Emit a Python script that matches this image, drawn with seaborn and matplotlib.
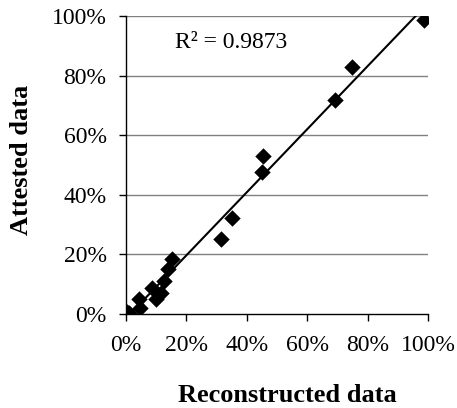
import matplotlib
matplotlib.use("Agg")
import matplotlib.pyplot as plt
import numpy as np
import pandas as pd
import seaborn as sns
from matplotlib.ticker import PercentFormatter

# Reconstructed vs attested shares (fractions)
reconstructed = [0.004, 0.010, 0.043, 0.046, 0.085, 0.098, 0.115, 0.127, 0.138,
                 0.152, 0.313, 0.351, 0.451, 0.455, 0.692, 0.750, 0.988]
attested = [0.008, 0.002, 0.050, 0.019, 0.088, 0.050, 0.069, 0.111, 0.150,
            0.184, 0.251, 0.321, 0.478, 0.530, 0.719, 0.830, 0.987]
ticks = [0, 0.2, 0.4, 0.6, 0.8, 1.0]
r2_label = "R² = 0.9873"

df = pd.DataFrame({"Reconstructed data": reconstructed, "Attested data": attested})

sns.set_style("white")
plt.rcParams["font.family"] = ["Liberation Serif", "DejaVu Serif"]
plt.rcParams["text.color"] = "black"
plt.rcParams["axes.labelcolor"] = "black"

fig = plt.figure(figsize=(4.57, 4.08), dpi=100)
ax = fig.add_axes([0.2757, 0.2304, 0.6608, 0.7304])

for t in ticks[1:]:
    ax.axhline(t, color="#808080", lw=1.0, zorder=0)

sns.regplot(data=df, x="Reconstructed data", y="Attested data", ax=ax,
            ci=None, truncate=False, marker="D", color="black",
            scatter_kws=dict(s=70, alpha=1, linewidths=0),
            line_kws=dict(color="black", lw=1.5))

ax.set_xlim(0, 1)
ax.set_ylim(0, 1)
ax.set_xticks(ticks)
ax.set_yticks(ticks)
ax.xaxis.set_major_formatter(PercentFormatter(1.0, decimals=0))
ax.yaxis.set_major_formatter(PercentFormatter(1.0, decimals=0))
ax.tick_params(axis="both", labelsize=17, direction="out", length=5, width=1,
               colors="black", bottom=True, left=True)
ax.tick_params(axis="x", pad=10)
ax.tick_params(axis="y", pad=9)

for side in ["top", "right"]:
    ax.spines[side].set_visible(False)
for side in ["left", "bottom"]:
    ax.spines[side].set_color("black")
    ax.spines[side].set_linewidth(1)

ax.text(0.162, 0.91, r2_label, transform=ax.transAxes, fontsize=17,
        ha="left", va="center")

ax.set_xlabel("Reconstructed data", fontsize=19, fontweight="bold", va="center")
ax.set_ylabel("Attested data", fontsize=19, fontweight="bold", va="center")
ax.xaxis.set_label_coords(0.533, -0.275)
ax.yaxis.set_label_coords(-0.346, 0.517)

fig.savefig("out.png", dpi=100)
